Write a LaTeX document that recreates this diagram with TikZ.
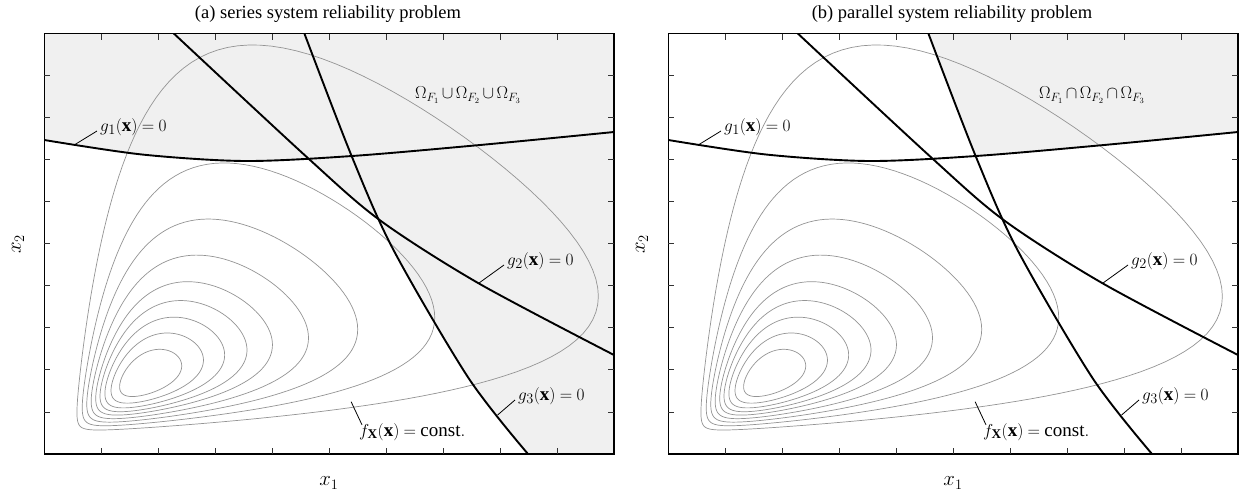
\documentclass[tikz,border=0pt]{standalone}
\usepackage{fontspec}
\setmainfont{Liberation Serif}
\definecolor{failgray}{gray}{0.94}
\newcommand\tightmath{\thickmuskip=4.5mu\relax\medmuskip=3mu\relax}
\newcommand\panelbody[1]{%
  % density contours (ellipses in log space)
  \foreach \rr in {2.146,1.732,1.468,1.260,1.079,0.931,0.783,0.622,0.429}{%
    \draw[contour] plot[domain=0:360, samples=181, variable=\t]
      ({65+exp(4.38+\rr*0.885*cos(\t))}, {440-exp(4.14+\rr*0.857*(0.45*cos(\t)+0.893*sin(\t)))}) -- cycle;
  }
  % limit state curves
  \begin{scope}
    \clip (44.3,33.5) rectangle (614,454);
    \draw[gline, g1path];
    \draw[gline, g2path];
    \draw[gline, g3path];
  \end{scope}
  % frame and ticks
  \draw[frame] (44.3,33.5) rectangle (614,454);
  \foreach \i in {1,...,9}{%
    \draw[tickmark] ({44.3+56.97*\i},454) -- ++(0,-6);
    \draw[tickmark] ({44.3+56.97*\i},33.5) -- ++(0,6);
    \draw[tickmark] (44.3,{33.5+42.05*\i}) -- ++(6,0);
    \draw[tickmark] (614,{33.5+42.05*\i}) -- ++(-6,0);
  }
  % labels with leaders
  \coordinate (#1g1a) at (75,144.5);
  \node[lbl, anchor=base west] (#1g1l) at (100,131) {$\tightmath g_1(\mathbf{x}) = 0$};
  \draw[leader] (#1g1a) -- ([xshift=-3pt]#1g1l.base west);
  \coordinate (#1g2a) at (478.6,283.3);
  \node[lbl, anchor=base west] (#1g2l) at (507,265) {$\tightmath g_2(\mathbf{x}) = 0$};
  \draw[leader] (#1g2a) -- ([xshift=-3pt]#1g2l.base west);
  \coordinate (#1g3a) at (497.6,415);
  \node[lbl, anchor=base west] (#1g3l) at (518,400) {$\tightmath g_3(\mathbf{x}) = 0$};
  \draw[leader] (#1g3a) -- ([xshift=-3pt]#1g3l.base west);
  \coordinate (#1fa) at (351.1,401.7);
  \node[lbl, anchor=base west] (#1fl) at (359,436) {$\tightmath f_{\mathbf{X}}(\mathbf{x}) = \mathrm{const.}$};
  \draw[leader] (#1fa) -- ([shift={(3pt,-2pt)}]#1fl.north west);
  % axis labels
  \node[axlbl] (#1x1) at (329,483) {$x_1$};
  \node[axlbl, rotate=90] (#1x2) at (18,244) {$x_2$};
}
\begin{document}
\begin{tikzpicture}[x=1pt,y=-1pt,
  contour/.style={draw=black!42, line width=0.7pt},
  gline/.style={draw=black, line width=1.9pt},
  frame/.style={draw=black, line width=1.6pt},
  tickmark/.style={draw=black!80, line width=0.9pt},
  leader/.style={draw=black, line width=0.8pt},
  lbl/.style={font=\fontsize{19}{21}\selectfont, inner sep=0pt},
  omlbl/.style={font=\fontsize{16.5}{20}\selectfont, inner sep=0pt},
  axlbl/.style={font=\fontsize{21}{23}\selectfont, inner sep=0pt},
  ttl/.style={font=\fontsize{18.5}{21}\selectfont, inner sep=0pt},
  g1path/.style={insert path={plot[smooth] coordinates {(44.3,140) (142,154.5) (245,161) (352,156) (480,145) (614,132)}}},
  g2path/.style={insert path={plot[smooth] coordinates {(173.8,33.5) (306.4,156.7) (379.6,220) (478.6,283.3) (614,355)}}},
  g3path/.style={insert path={plot[smooth] coordinates {(304.4,33.5) (351.9,156.7) (393.5,250) (468.7,378.3) (528,454)}}},
]
\useasboundingbox (0,0) rectangle (1243,501);
% ---------- panel (a) ----------
\begin{scope}
  \fill[failgray] (44.3,33.5) rectangle (614,454);
  \begin{scope}
    \clip[g1path] -- (614,454) -- (44.3,454) -- cycle;
    \clip[g2path] -- (614,454) -- (44.3,454) -- (44.3,33.5) -- cycle;
    \clip[g3path] -- (44.3,454) -- (44.3,33.5) -- cycle;
    \fill[white] (44.3,33.5) rectangle (614,454);
  \end{scope}
  \panelbody{a}
  \node[omlbl] (aom) at (468,95) {$\medmuskip=2.5mu\relax\Omega_{F_1}\cup\Omega_{F_2}\cup\Omega_{F_3}$};
  \node[ttl, anchor=base] (atitle) at (328,18.5) {(a) series system reliability problem};
\end{scope}
% ---------- panel (b) ----------
\begin{scope}[xshift=624pt]
  \begin{scope}
    \clip[g1path] -- (614,33.5) -- (44.3,33.5) -- cycle;
    \clip[g3path] -- (614,454) -- (614,33.5) -- cycle;
    \fill[failgray] (44.3,33.5) rectangle (614,454);
  \end{scope}
  \panelbody{b}
  \node[omlbl] (bom) at (468,95) {$\medmuskip=2.5mu\relax\Omega_{F_1}\cap\Omega_{F_2}\cap\Omega_{F_3}$};
  \node[ttl, anchor=base] (btitle) at (328,18.5) {(b) parallel system reliability problem};
\end{scope}
\end{tikzpicture}
\end{document}
